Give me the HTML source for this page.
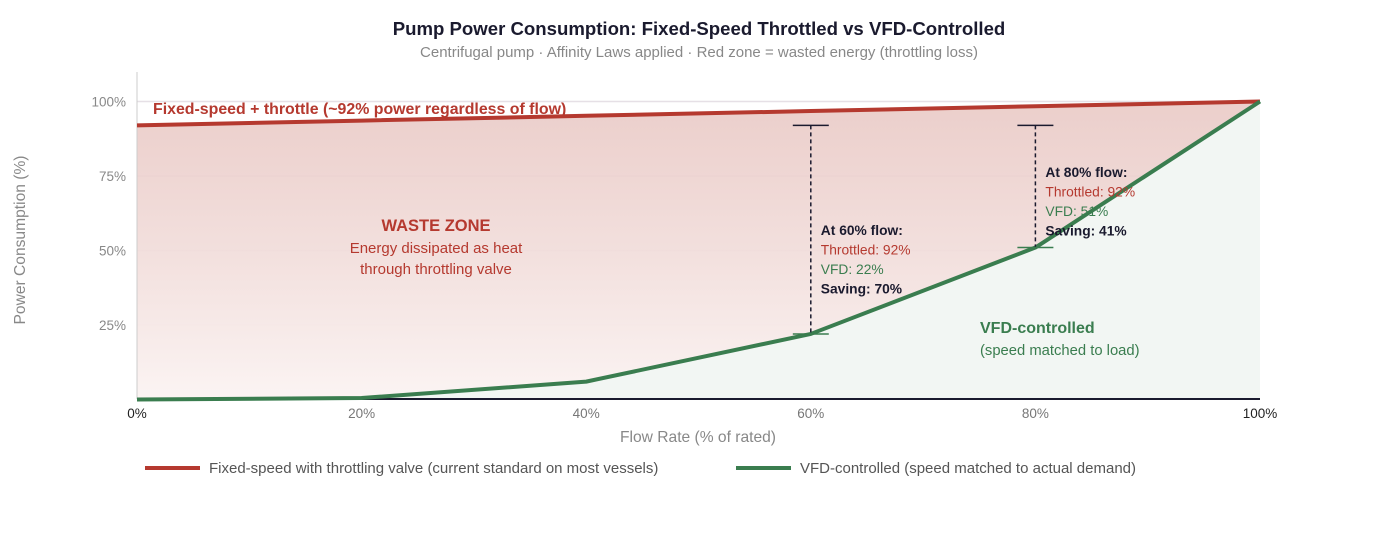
<!DOCTYPE html>
<html><head><meta charset="utf-8"><style>
body{margin:0;background:#fff;width:1398px;height:530px;overflow:hidden;font-family:"Liberation Sans",Arial,sans-serif}
</style></head><body>
<svg width="1398" height="530" font-family="Liberation Sans, Arial, sans-serif">
<defs>
<linearGradient id="rg" x1="0" y1="0" x2="0" y2="1"><stop offset="0" stop-color="#e8c6c2" stop-opacity="0.85"/><stop offset="1" stop-color="#fbf4f3"/></linearGradient>
</defs>
<text x="699" y="35" text-anchor="middle" font-size="18.6" font-weight="bold" fill="#1a1a2e">Pump Power Consumption: Fixed-Speed Throttled vs VFD-Controlled</text>
<text x="699" y="57" text-anchor="middle" font-size="15" fill="#888">Centrifugal pump · Affinity Laws applied · Red zone = wasted energy (throttling loss)</text>
<g id="grid"></g>
<g id="areas"></g>
<line x1="137" y1="72" x2="137" y2="399" stroke="#ccc"/>
<line x1="137" y1="399" x2="1260" y2="399" stroke="#1a1a2e" stroke-width="2"/>
<g id="lines"></g>
<g id="ann"></g>
<text x="153" y="114" font-size="15.9" font-weight="bold" fill="#b5392f">Fixed-speed + throttle (~92% power regardless of flow)</text>
<text x="436" y="231" text-anchor="middle" font-size="16.5" font-weight="bold" fill="#b5392f">WASTE ZONE</text>
<text x="436" y="253" text-anchor="middle" font-size="15" fill="#b5392f">Energy dissipated as heat</text>
<text x="436" y="274" text-anchor="middle" font-size="15" fill="#b5392f">through throttling valve</text>
<text x="980" y="333" font-size="16" font-weight="bold" fill="#3a7d4f">VFD-controlled</text>
<text x="980" y="355" font-size="14.8" fill="#3a7d4f">(speed matched to load)</text>
<g id="ticks"></g>
<text x="698" y="442" text-anchor="middle" font-size="15.6" fill="#888">Flow Rate (% of rated)</text>
<text transform="translate(25,240) rotate(-90)" text-anchor="middle" font-size="15.6" fill="#888">Power Consumption (%)</text>
<g><line x1="145" y1="468" x2="200" y2="468" stroke="#b5392f" stroke-width="4"/><text x="209" y="473" font-size="15" fill="#555">Fixed-speed with throttling valve (current standard on most vessels)</text></g>
<g><line x1="736" y1="468" x2="791" y2="468" stroke="#3a7d4f" stroke-width="4"/><text x="800" y="473" font-size="15" fill="#555">VFD-controlled (speed matched to actual demand)</text></g>
</svg>
<script>
const flow=[0,20,40,60,80,100];
const fixedPower=[92,93.6,95.2,96.8,98.4,100];
const vfdPower=[0,0.5,6,22,51,100];
const yTicks=[25,50,75,100];
const xTicks=[0,20,40,60,80,100];
const annFlows=[60,80];
const annThrottled=[92,92];
const annVfd=[22,51];
const annSaving=[70,41];
const NS='http://www.w3.org/2000/svg';
const X=v=>137+v*(1260-137)/100, Y=v=>399.5-v*2.98;
function mk(t,a,p){const e=document.createElementNS(NS,t);for(const k in a)e.setAttribute(k,a[k]);(p||document.getElementById('lines')).appendChild(e);return e;}
const grid=document.getElementById('grid'),ticks=document.getElementById('ticks'),areas=document.getElementById('areas'),ann=document.getElementById('ann');
yTicks.forEach(v=>{const l=mk('line',{x1:137,x2:1260,y1:Y(v),y2:Y(v),stroke:'#e6e0e6','stroke-width':1.5},grid);


const t=mk('text',{x:126,y:Y(v)+5,'text-anchor':'end','font-size':13.5,fill:'#888'},ticks);t.textContent=v+'%';

});
xTicks.forEach(v=>{const t=mk('text',{x:X(v),y:418,'text-anchor':'middle','font-size':13.5,fill:v===0||v===100?'#222':'#777'},ticks);t.textContent=v+'%';

});
const fp=flow.map((f,i)=>X(f)+','+Y(fixedPower[i])).join(' ');
const vp=flow.map((f,i)=>X(f)+','+Y(vfdPower[i])).join(' ');
const ra=mk('polygon',{points:fp+' '+X(100)+','+Y(0)+' '+X(0)+','+Y(0),fill:'url(#rg)'},areas);


const ga=mk('polygon',{points:vp+' '+X(100)+','+Y(0)+' '+X(0)+','+Y(0),fill:'#f2f6f3'},areas);


const fl=mk('polyline',{points:fp,fill:'none',stroke:'#b5392f','stroke-width':4});


const vl=mk('polyline',{points:vp,fill:'none',stroke:'#3a7d4f','stroke-width':4,'stroke-linejoin':'round'});


annFlows.forEach((f,i)=>{const x=X(f),y1=Y(annThrottled[i]),y2=Y(annVfd[i]);
const g=mk('g',{},ann);


mk('line',{x1:x,x2:x,y1:y1,y2:y2,stroke:'#1a1a2e','stroke-width':1.5,'stroke-dasharray':'4,3'},g);
mk('line',{x1:x-18,x2:x+18,y1:y1,y2:y1,stroke:'#1a1a2e','stroke-width':1.5},g);
mk('line',{x1:x-18,x2:x+18,y1:y2,y2:y2,stroke:'#3a7d4f','stroke-width':1.5},g);
const ty=i===0?235:177;
const lines=[['At '+f+'% flow:','#1a1a2e','bold'],['Throttled: '+annThrottled[i]+'%','#b5392f','normal'],['VFD: '+annVfd[i]+'%','#3a7d4f','normal'],['Saving: '+annSaving[i]+'%','#1a1a2e','bold']];
lines.forEach((l,j)=>{const t=mk('text',{x:x+10,y:ty+j*19.5,'font-size':13.8,fill:l[1],'font-weight':l[2]},g);t.textContent=l[0];});});
</script>
</body></html>
